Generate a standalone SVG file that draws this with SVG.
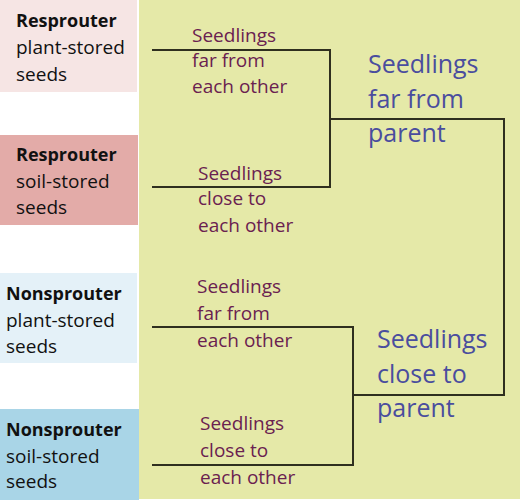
<svg xmlns="http://www.w3.org/2000/svg" width="520" height="501" viewBox="0 0 520 501">
<style>
.lbl{font-family:"Open Sans","Liberation Sans",sans-serif;font-size:19px;fill:#111}
.b{font-weight:bold;font-size:18px}
.mid{font-family:"Open Sans","Liberation Sans",sans-serif;font-size:19px;fill:#6a2150}
.big{font-family:"Open Sans","Liberation Sans",sans-serif;font-size:25px;fill:#4a4d9e}
.ln{fill:none;stroke:#2f2f1f;stroke-width:2}
</style>
<rect x="0" y="0" width="520" height="501" fill="#ffffff"/>
<rect id="panel" x="139" y="0" width="381" height="499" fill="#e5e9a8"/>
<g id="node-resprouter-plant">
<rect x="0" y="0" width="137" height="92" fill="#f6e5e4"/>
<text class="lbl" x="16" y="27"><tspan class="b">Resprouter</tspan></text>
<text class="lbl" x="16" y="54">plant-stored</text>
<text class="lbl" x="16" y="81">seeds</text>
</g>
<g id="node-resprouter-soil">
<rect x="0" y="135" width="138" height="90" fill="#e3aba8"/>
<text class="lbl" x="16" y="161"><tspan class="b">Resprouter</tspan></text>
<text class="lbl" x="16" y="188">soil-stored</text>
<text class="lbl" x="16" y="214">seeds</text>
</g>
<g id="node-nonsprouter-plant">
<rect x="0" y="273" width="137" height="90" fill="#e4f1f8"/>
<text class="lbl" x="6" y="300"><tspan class="b">Nonsprouter</tspan></text>
<text class="lbl" x="6" y="327">plant-stored</text>
<text class="lbl" x="6" y="353">seeds</text>
</g>
<g id="node-nonsprouter-soil">
<rect x="0" y="409" width="139" height="91" fill="#a9d5e7"/>
<text class="lbl" x="6" y="436"><tspan class="b">Nonsprouter</tspan></text>
<text class="lbl" x="6" y="463">soil-stored</text>
<text class="lbl" x="6" y="488">seeds</text>
</g>
<g id="connectors">
<polyline class="ln" points="152,50 330,50 330,187 152,187"/>
<polyline class="ln" points="330,119 504,119 504,395 353,395"/>
<polyline class="ln" points="152,327 353,327 353,465 152,465"/>
</g>
<g id="label-far-each">
<text class="mid" x="192" y="42">Seedlings</text>
<text class="mid" x="192" y="67">far from</text>
<text class="mid" x="192" y="93">each other</text>
</g>
<g id="label-close-each-1">
<text class="mid" x="198" y="180">Seedlings</text>
<text class="mid" x="198" y="205">close to</text>
<text class="mid" x="198" y="232">each other</text>
</g>
<g id="label-far-each-2">
<text class="mid" x="197" y="293">Seedlings</text>
<text class="mid" x="197" y="320">far from</text>
<text class="mid" x="197" y="347">each other</text>
</g>
<g id="label-close-each-2">
<text class="mid" x="200" y="430">Seedlings</text>
<text class="mid" x="200" y="457">close to</text>
<text class="mid" x="200" y="484">each other</text>
</g>
<g id="label-far-parent">
<text class="big" x="368" y="73">Seedlings</text>
<text class="big" x="368" y="108">far from</text>
<text class="big" x="368" y="142">parent</text>
</g>
<g id="label-close-parent">
<text class="big" x="377" y="348">Seedlings</text>
<text class="big" x="377" y="383">close to</text>
<text class="big" x="377" y="417">parent</text>
</g>
</svg>
